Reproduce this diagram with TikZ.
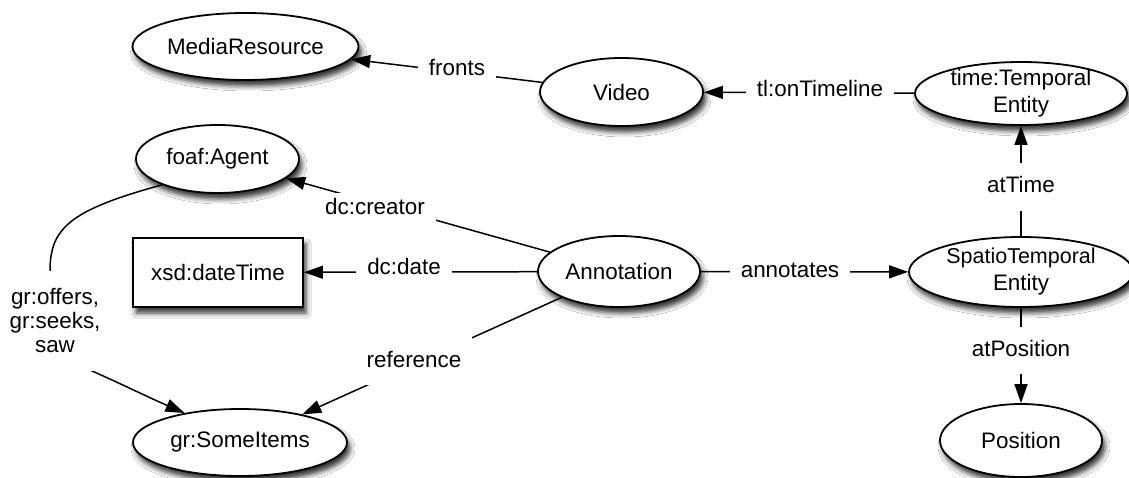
\documentclass[tikz,border=0pt]{standalone}
\usepackage{fontspec}
\setmainfont{Liberation Sans}
\usetikzlibrary{arrows.meta,shapes.geometric,shadows.blur}
\begin{document}
\begin{tikzpicture}[x=1pt,y=-1pt,
  font=\fontsize{22.4pt}{24pt}\selectfont,
  shad/.style={blur shadow={shadow xshift=3pt, shadow yshift=-6pt, shadow blur radius=5pt, shadow opacity=80}},
  ent/.style={ellipse, draw, line width=1.8pt, fill=white, inner sep=0pt, shad},
  rectbox/.style={rectangle, draw, line width=1.8pt, fill=white, inner sep=0pt, shad},
  twoline/.style={align=center, font=\fontsize{22.4pt}{27pt}\selectfont},
  conn/.style={line width=1.5pt},
  arr/.style={conn, -{Triangle[length=19pt,width=13pt]}},
  lbl/.style={fill=white, inner xsep=11pt, inner ysep=4pt, text height=16pt, text depth=4pt},
]
\path[fill=white] (0,0) rectangle (1129,478);
\useasboundingbox (0,0) rectangle (1129,478);

% entities
\node[ent, minimum width=226pt, minimum height=67pt, label=center:MediaResource] (media) at (245.5,46.5) {};
\node[ent, minimum width=163pt, minimum height=68pt, label=center:Video] (video) at (621.5,92) {};
\node[ent, minimum width=212pt, minimum height=63pt, label={[twoline]center:time:Temporal\\Entity}] (time) at (1021,93.5) {};
\node[ent, minimum width=163pt, minimum height=68pt, label=center:foaf:Agent] (foaf) at (217.5,159) {};
\node[rectbox, minimum width=170pt, minimum height=69pt] (xsd) at (218,272.5) {xsd:dateTime};
\node[ent, minimum width=162pt, minimum height=71pt, label=center:Annotation] (annot) at (619,271.5) {};
\node[ent, minimum width=224pt, minimum height=70pt, label={[twoline]center:{\fontsize{21.5pt}{27pt}\selectfont SpatioTemporal}\\Entity}] (spatio) at (1021,272) {};
\node[ent, minimum width=214pt, minimum height=67pt, label=center:gr:SomeItems] (items) at (240,442.5) {};
\node[ent, minimum width=162pt, minimum height=73pt, label=center:Position] (position) at (1021,440.5) {};

% connectors
\draw[arr] (video) -- (media);
\draw[arr] (time) -- (video);
\draw[arr] (spatio) -- (time);
\draw[arr] (spatio) -- (position);
\draw[arr] (annot) -- (spatio);
\draw[arr] (annot) -- (foaf);
\draw[arr] (annot) -- (xsd);
\draw[arr] (annot) -- (items);
\draw[arr] (foaf.205) .. controls (70,210) and (50,228) .. (50,271)
   .. controls (50,320) and (60,356) .. (92,371)
   .. controls (115,381) and (150,398) .. (items.152);

% connector labels
\node[lbl] (lfronts) at (457,70) {fronts};
\node[lbl] (ltl) at (820,91) {tl:onTimeline};
\node[lbl, inner ysep=14pt] (lattime) at (1021,187) {atTime};
\node[lbl, inner ysep=6pt] (lcreator) at (375,209) {dc:creator};
\node[lbl] (ldate) at (404,269) {dc:date};
\node[lbl] (lann) at (790,271) {annotates};
\node[lbl, inner ysep=14pt] (lref) at (414,361) {reference};
\node[lbl, inner ysep=13.5pt] (latpos) at (1021,350.5) {atPosition};
\node[fill=white, align=center, inner xsep=6pt, inner ysep=18pt] (loffers) at (55,321) {gr:offers,\\gr:seeks,\\saw};
\end{tikzpicture}
\end{document}
